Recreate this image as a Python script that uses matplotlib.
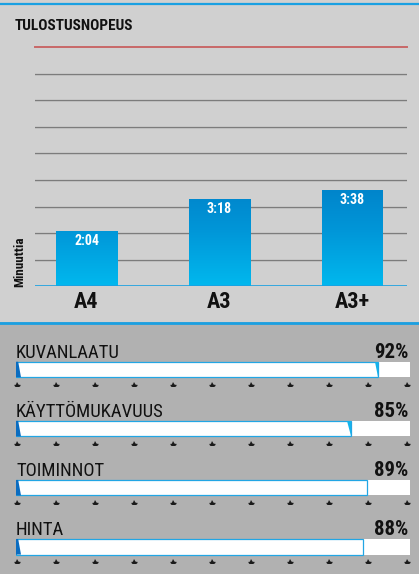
import numpy as np
import matplotlib
matplotlib.use("Agg")
import matplotlib.pyplot as plt
from matplotlib.patches import Polygon
from matplotlib.colors import LinearSegmentedColormap

# ---------------- data ----------------
title = "TULOSTUSNOPEUS"
ylabel = "Minuuttia"
paper_sizes = ["A4", "A3", "A3+"]
print_minutes = [2 + 4 / 60, 3 + 18 / 60, 3 + 38 / 60]
print_labels = ["2:04", "3:18", "3:38"]
grid_max = 9

rating_names = ["KUVANLAATU", "KÄYTTÖMUKAVUUS", "TOIMINNOT", "HINTA"]
rating_values = [92, 85, 89, 88]
end_wedge = [True, True, False, False]

# ---------------- fonts ----------------
plt.rcParams["font.family"] = ["Roboto Condensed", "Liberation Sans Narrow",
                               "Roboto", "DejaVu Sans"]

W, H = 419, 574
fig = plt.figure(figsize=(W / 100, H / 100), dpi=100)
fig.patch.set_facecolor("#d0d0d0")

def fx(px):
    return px / W

def fy(py):
    return 1 - py / H

# backgrounds
bg = fig.add_axes([0, 0, 1, 1], zorder=-5)
bg.set_xlim(0, W)
bg.set_ylim(H, 0)
bg.axis("off")
bg.add_patch(plt.Rectangle((0, 322), W, H - 322, color="#b1b1b1", lw=0))
bg.axhline(4.2, color="#1aa0e2", lw=1.6)
bg.axhline(322.8, color="#1aa0e2", lw=2.0)

fig.text(fx(15), fy(26), title, fontsize=11, fontweight="bold",
         ha="left", va="center", color="#111111")

# ---------------- top chart ----------------
ax_l, ax_r, ax_base, ax_top = 35, 407, 286.4, 47
ax = fig.add_axes([fx(ax_l), fy(ax_base), fx(ax_r - ax_l), (ax_base - ax_top) / H])
ax.set_facecolor("none")
for s in ax.spines.values():
    s.set_visible(False)
x = np.arange(len(paper_sizes))
spacing = 133.0
x0_px = 86.5
xlim = (-(x0_px - ax_l) / spacing, (ax_r - x0_px) / spacing)

for g in range(1, grid_max):
    ax.axhline(g, color="#7c7c7c", lw=0.9, zorder=1)
    ax.axhline(g - 0.035, color="#bdbdbd", lw=0.6, zorder=1)
ax.axhline(grid_max, color="#c86868", lw=1.4, zorder=1, clip_on=False)

bars = ax.bar(x, print_minutes, width=61 / spacing, color="#00a0e0", zorder=2)
cmap = LinearSegmentedColormap.from_list("b", ["#00b8ee", "#0096d8", "#007ec6"])
grad = np.linspace(0, 1, 256).reshape(-1, 1)
for b in bars:
    im = ax.imshow(grad, extent=[b.get_x(), b.get_x() + b.get_width(), 0, 4.2],
                   origin="lower", cmap=cmap, aspect="auto", zorder=3)
    im.set_clip_path(b)
ax.set_xlim(*xlim)
ax.set_ylim(0, grid_max)
ax.axhline(0, color="#1aa0e2", lw=1.2, zorder=4)

for xi, v, lab in zip(x, print_minutes, print_labels):
    ax.annotate(lab, (xi, v), xytext=(0, -10), textcoords="offset pixels",
                ha="center", va="center", color="white", fontsize=10,
                fontweight="bold", zorder=5)

ax.set_xticks(x)
ax.set_xticklabels(paper_sizes, fontsize=16, fontweight="bold", color="#111111")
ax.tick_params(axis="x", length=0, pad=3)
ax.set_yticks([])
fig.text(fx(20), fy(287), ylabel, rotation=90, fontsize=9.5, fontweight="bold",
         ha="center", va="bottom", color="#111111")

# ---------------- ratings ----------------
bx_l, bx_r = 16, 410
row_sp = 59.1
row0 = 369.5
b_top, b_bot = 324, 574
axb = fig.add_axes([fx(bx_l), fy(b_bot), fx(bx_r - bx_l), (b_bot - b_top) / H])
axb.set_facecolor("none")
axb.axis("off")
axb.set_xlim(0, 100)
axb.set_ylim((b_bot - row0) / row_sp, (b_top - row0) / row_sp)
bh = 15.5 / row_sp
px_x = 100 / (bx_r - bx_l)
yi = np.arange(len(rating_names))

axb.barh(yi, [100] * len(yi), height=bh, color="white", lw=0, zorder=1)
axb.barh(yi, rating_values, height=bh, color="white", edgecolor="#22a6e4",
         lw=0.9, zorder=2)
tick_x = np.linspace(1 * px_x, (407 - bx_l) * px_x, 11)
for i, v in enumerate(rating_values):
    top, bot = i - bh / 2, i + bh / 2
    axb.add_patch(Polygon([(0, top), (2.2 * px_x, top), (5 * px_x, bot), (0, bot)],
                          closed=True, color="#0a6cc0", lw=0, zorder=3))
    if end_wedge[i]:
        axb.add_patch(Polygon([(v - 3.5 * px_x, top), (v, top), (v, bot),
                               (v - 0.4 * px_x, bot)],
                              closed=True, color="#14b4ec", lw=0, zorder=3))
    axb.annotate(rating_names[i], (0, top), xytext=(0, 4), textcoords="offset pixels",
                 ha="left", va="baseline", fontsize=13.5, color="#111111")
    axb.annotate(f"{v}%", ((408 - bx_l) * px_x, top), xytext=(0, 4),
                 textcoords="offset pixels", ha="right", va="baseline",
                 fontsize=15, fontweight="bold", color="#111111")
    ty = i + bh / 2 + 6.5 / row_sp
    axb.plot(tick_x, [ty] * len(tick_x), ls="none", marker="^", ms=3.6,
             color="#1a1a1a", mew=0, zorder=3, clip_on=False)
    axb.plot(tick_x, [ty + 1.4 / row_sp] * len(tick_x), ls="none", marker="_",
             ms=5, color="#1a1a1a", mew=1, zorder=3, clip_on=False)

fig.savefig("out.png", dpi=100, facecolor=fig.get_facecolor())
